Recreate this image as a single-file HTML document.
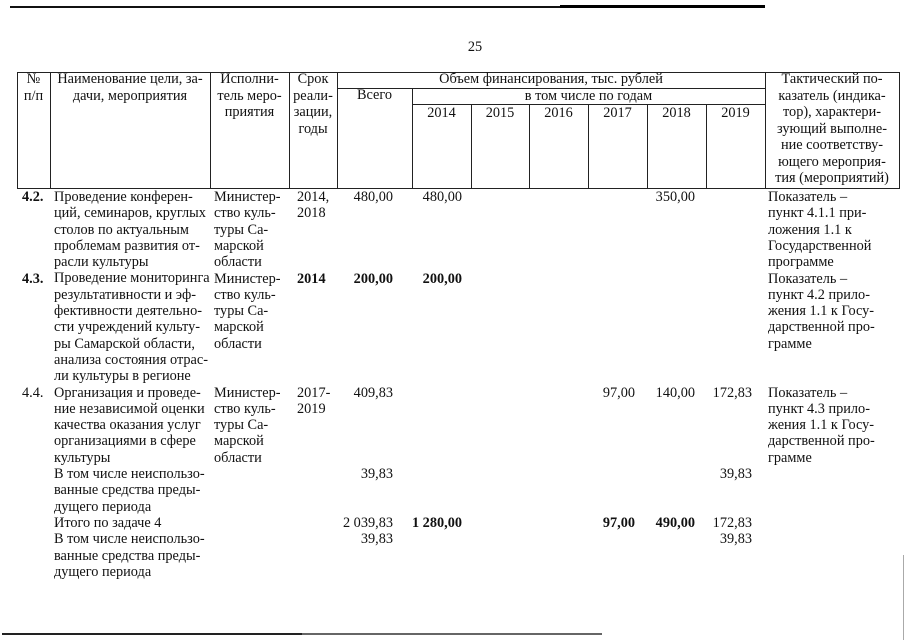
<!DOCTYPE html>
<html><head><meta charset="utf-8">
<style>
body{margin:0;background:#fff;}
#p{position:relative;width:905px;height:640px;overflow:hidden;background:#fff;font-family:"Liberation Serif","Noto Serif CJK SC",serif;font-size:14.3px;color:#111;}
.t{position:absolute;white-space:pre;line-height:16.3px;}
.hd{position:absolute;white-space:pre;line-height:16.5px;text-align:center;}
.h{position:absolute;background:#222;height:1px;}
.v{position:absolute;background:#222;width:1px;}
.r{text-align:right}
</style></head><body><div id="p">

<!-- top rule -->
<div style="position:absolute;left:10px;top:6px;width:755px;height:2px;background:#111"></div>
<div style="position:absolute;left:560px;top:5px;width:205px;height:3px;background:#000"></div>

<!-- page number -->
<div class="t" style="left:465px;top:39px;width:20px;text-align:center">25</div>

<!-- table lines -->
<div class="h" style="left:17px;top:72px;width:883px"></div>
<div class="h" style="left:337px;top:88px;width:428px"></div>
<div class="h" style="left:412px;top:104px;width:353px"></div>
<div class="h" style="left:17px;top:188px;width:883px"></div>

<div class="v" style="left:17px;top:72px;height:117px"></div>
<div class="v" style="left:50px;top:72px;height:117px"></div>
<div class="v" style="left:210px;top:72px;height:117px"></div>
<div class="v" style="left:289px;top:72px;height:117px"></div>
<div class="v" style="left:337px;top:72px;height:117px"></div>
<div class="v" style="left:412px;top:88px;height:101px"></div>
<div class="v" style="left:471px;top:104px;height:85px"></div>
<div class="v" style="left:529px;top:104px;height:85px"></div>
<div class="v" style="left:588px;top:104px;height:85px"></div>
<div class="v" style="left:647px;top:104px;height:85px"></div>
<div class="v" style="left:706px;top:104px;height:85px"></div>
<div class="v" style="left:765px;top:72px;height:117px"></div>
<div class="v" style="left:899px;top:72px;height:117px"></div>

<!-- header text -->
<div class="hd" style="left:17px;top:71px;width:33px">№
п/п</div>
<div class="hd" style="left:50px;top:71px;width:160px">Наименование цели, за-
дачи, мероприятия</div>
<div class="hd" style="left:210px;top:71px;width:79px">Исполни-
тель меро-
приятия</div>
<div class="hd" style="left:289px;top:71px;width:48px">Срок
реали-
зации,
годы</div>
<div class="hd" style="left:337px;top:71px;width:428px">Объем финансирования, тыс. рублей</div>
<div class="hd" style="left:337px;top:87px;width:75px">Всего</div>
<div class="hd" style="left:412px;top:88px;width:353px">в том числе по годам</div>
<div class="hd" style="left:412px;top:105px;width:59px">2014</div>
<div class="hd" style="left:471px;top:105px;width:58px">2015</div>
<div class="hd" style="left:529px;top:105px;width:59px">2016</div>
<div class="hd" style="left:588px;top:105px;width:59px">2017</div>
<div class="hd" style="left:647px;top:105px;width:59px">2018</div>
<div class="hd" style="left:706px;top:105px;width:59px">2019</div>
<div class="hd" style="left:765px;top:71px;width:134px">Тактический по-
казатель (индика-
тор), характери-
зующий выполне-
ние соответству-
ющего мероприя-
тия (мероприятий)</div>

<!-- body: column 1 -->
<div class="t" style="left:22px;top:189px"><b>4.2.</b></div>
<div class="t" style="left:22px;top:270.5px"><b>4.3.</b></div>
<div class="t" style="left:22px;top:384.6px">4.4.</div>

<div class="t" style="left:54px;top:189px">Проведение конферен-
ций, семинаров, круглых
столов по актуальным
проблемам развития от-
расли культуры
Проведение мониторинга
результативности и эф-
фективности деятельно-
сти учреждений культу-
ры Самарской области,
анализа состояния отрас-
ли культуры в регионе
Организация и проведе-
ние независимой оценки
качества оказания услуг
организациями в сфере
культуры
В том числе неиспользо-
ванные средства преды-
дущего периода
Итого по задаче 4
В том числе неиспользо-
ванные средства преды-
дущего периода</div>

<div class="t" style="left:214px;top:189px">Министер-
ство куль-
туры Са-
марской
области</div>
<div class="t" style="left:214px;top:270.5px">Министер-
ство куль-
туры Са-
марской
области</div>
<div class="t" style="left:214px;top:384.6px">Министер-
ство куль-
туры Са-
марской
области</div>

<div class="t" style="left:297px;top:189px">2014,
2018</div>
<div class="t" style="left:297px;top:270.5px"><b>2014</b></div>
<div class="t" style="left:297px;top:384.6px">2017-
2019</div>

<!-- Всего -->
<div class="t r" style="left:330px;top:189px;width:63px">480,00</div>
<div class="t r" style="left:330px;top:270.5px;width:63px"><b>200,00</b></div>
<div class="t r" style="left:330px;top:384.6px;width:63px">409,83</div>
<div class="t r" style="left:330px;top:466.1px;width:63px">39,83</div>
<div class="t r" style="left:320px;top:515px;width:73px">2 039,83</div>
<div class="t r" style="left:330px;top:531.3px;width:63px">39,83</div>

<!-- 2014 -->
<div class="t r" style="left:400px;top:189px;width:62px">480,00</div>
<div class="t r" style="left:400px;top:270.5px;width:62px"><b>200,00</b></div>
<div class="t r" style="left:400px;top:515px;width:62px"><b>1 280,00</b></div>

<!-- 2017 -->
<div class="t r" style="left:580px;top:384.6px;width:55px">97,00</div>
<div class="t r" style="left:580px;top:515px;width:55px"><b>97,00</b></div>

<!-- 2018 -->
<div class="t r" style="left:640px;top:189px;width:55px">350,00</div>
<div class="t r" style="left:640px;top:384.6px;width:55px">140,00</div>
<div class="t r" style="left:640px;top:515px;width:55px"><b>490,00</b></div>

<!-- 2019 -->
<div class="t r" style="left:700px;top:384.6px;width:52px">172,83</div>
<div class="t r" style="left:700px;top:466.1px;width:52px">39,83</div>
<div class="t r" style="left:700px;top:515px;width:52px">172,83</div>
<div class="t r" style="left:700px;top:531.3px;width:52px">39,83</div>

<!-- tactical -->
<div class="t" style="left:768px;top:189px">Показатель –
пункт 4.1.1 при-
ложения 1.1 к
Государственной
программе</div>
<div class="t" style="left:768px;top:270.5px">Показатель –
пункт 4.2 прило-
жения 1.1 к Госу-
дарственной про-
грамме</div>
<div class="t" style="left:768px;top:384.6px">Показатель –
пункт 4.3 прило-
жения 1.1 к Госу-
дарственной про-
грамме</div>

<!-- bottom artifacts -->
<div style="position:absolute;left:2px;top:633px;width:600px;height:2px;background:#666"></div>
<div style="position:absolute;left:2px;top:633px;width:300px;height:2px;background:#222"></div>
<div style="position:absolute;left:903px;top:555px;width:1px;height:85px;background:#aaa"></div>

</div></body></html>
